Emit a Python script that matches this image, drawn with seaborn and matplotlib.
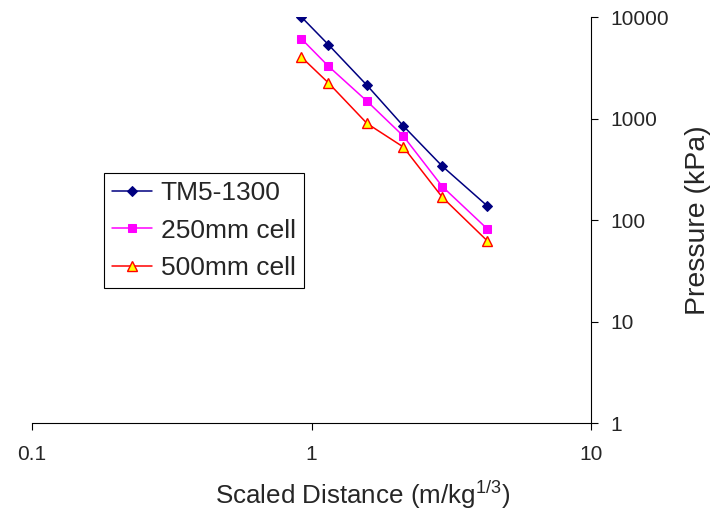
import matplotlib
matplotlib.use("Agg")
import matplotlib.pyplot as plt
import seaborn as sns

# ---- data ----
scaled_distance = [0.92, 1.15, 1.58, 2.13, 2.94, 4.25]
tm5_1300 = [10000, 5330, 2120, 845, 338, 138]
cell_250mm = [6100, 3270, 1480, 672, 213, 82]
cell_500mm = [4030, 2240, 893, 524, 167, 62.5]
series_names = ["TM5-1300", "250mm cell", "500mm cell"]
x_ticks = [0.1, 1, 10]
x_tick_labels = ["0.1", "1", "10"]
y_ticks = [1, 10, 100, 1000, 10000]
y_tick_labels = ["1", "10", "100", "1000", "10000"]

sns.set_style("white")
plt.rcParams["font.family"] = ["Liberation Sans", "DejaVu Sans"]
plt.rcParams["mathtext.default"] = "regular"

fig = plt.figure(figsize=(7.15, 5.17), dpi=100)
ax = fig.add_axes([0.0448, 0.1818, 0.7818, 0.7853])

sns.lineplot(x=scaled_distance, y=tm5_1300, ax=ax, color="#000080", marker="D",
             markersize=5.0, markeredgecolor="#000080", markerfacecolor="#000080",
             linewidth=1.1, label=series_names[0])
sns.lineplot(x=scaled_distance, y=cell_250mm, ax=ax, color="#FF00FF", marker="s",
             markersize=6.0, markeredgecolor="#FF00FF", markerfacecolor="#FF00FF",
             linewidth=1.1, label=series_names[1])
sns.lineplot(x=scaled_distance, y=cell_500mm, ax=ax, color="#FF0000", marker="^",
             markersize=7.2, markeredgecolor="#FF0000", markerfacecolor="#FFFF00",
             markeredgewidth=1.0, linewidth=1.1, label=series_names[2])

ax.set_xscale("log")
ax.set_yscale("log")
ax.set_xlim(0.1, 10)
ax.set_ylim(1, 10000)

ax.set_xticks(x_ticks)
ax.set_xticklabels(x_tick_labels)
ax.set_yticks(y_ticks)
ax.set_yticklabels(y_tick_labels)
ax.minorticks_off()

ax.yaxis.tick_right()
ax.yaxis.set_label_position("right")

for side in ["left", "top"]:
    ax.spines[side].set_visible(False)
for side in ["bottom", "right"]:
    ax.spines[side].set_visible(True)
    ax.spines[side].set_color("black")
    ax.spines[side].set_linewidth(0.8)

ax.tick_params(axis="x", direction="out", length=5, width=0.8, color="black",
               labelsize=15, pad=11, bottom=True)
ax.tick_params(axis="y", direction="out", length=5, width=0.8, color="black",
               labelsize=15, pad=9, right=True, left=False)
ax.grid(False)

ax.set_xlabel(r"Scaled Distance (m/kg$^{1/3}$)", fontsize=18.7, ha="center", va="center")
ax.xaxis.set_label_coords(0.592, -0.177)
ax.set_ylabel("Pressure (kPa)", fontsize=20.5, rotation=90, ha="center", va="center")
ax.yaxis.set_label_coords(1.192, 0.5)

leg = ax.legend(loc="upper left", bbox_to_anchor=(104 / 715, 1 - 173 / 517),
                bbox_transform=fig.transFigure, borderaxespad=0, fontsize=19,
                frameon=True, fancybox=False, shadow=False, framealpha=1,
                edgecolor="black", handlelength=1.5, handletextpad=0.35,
                labelspacing=0.52, borderpad=0.3)
leg.get_frame().set_linewidth(0.8)

fig.savefig("out.png", dpi=100)
